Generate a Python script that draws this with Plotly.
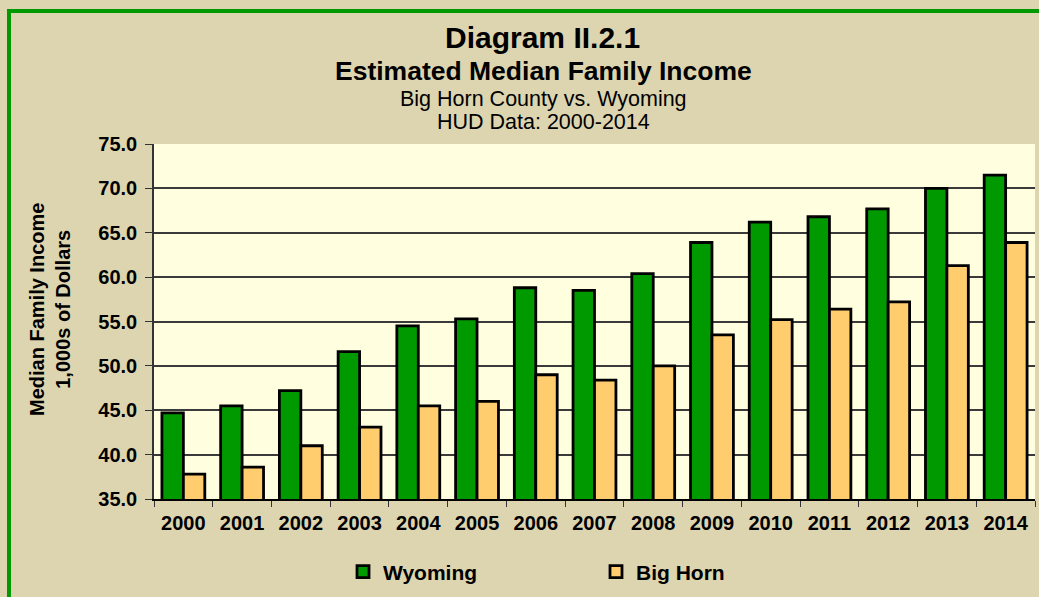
import plotly.graph_objects as go

years = ["2000", "2001", "2002", "2003", "2004", "2005", "2006", "2007",
         "2008", "2009", "2010", "2011", "2012", "2013", "2014"]
wyoming = [44.7, 45.5, 47.2, 51.6, 54.5, 55.3, 58.8, 58.5, 60.4, 63.9, 66.2, 66.8, 67.7, 70.0, 71.5]
big_horn = [37.8, 38.6, 41.0, 43.1, 45.5, 46.0, 49.0, 48.4, 50.0, 53.5, 55.2, 56.4, 57.2, 61.3, 63.9]
y_ticks = [35, 40, 45, 50, 55, 60, 65, 70, 75]

FONT = "Liberation Sans, Arial, sans-serif"
W, H = 1039, 597
L, R, T, B = 154, 4, 144, 98
pw, ph = W - L - R, H - T - B

def px(x):
    return (x - L) / pw

def py(y):
    return (H - B - y) / ph

fig = go.Figure()
fig.add_trace(go.Bar(x=years, y=wyoming, name="Wyoming",
                     marker=dict(color="#009900", line=dict(color="black", width=2.8))))
fig.add_trace(go.Bar(x=years, y=big_horn, name="Big Horn",
                     marker=dict(color="#FFCC6E", line=dict(color="black", width=2.8))))

fig.update_layout(
    width=W, height=H,
    margin=dict(l=L, r=R, t=T, b=B),
    paper_bgcolor="#DDD5B0",
    plot_bgcolor="#FFFFE0",
    barmode="group", bargap=0.27, bargroupgap=0.0,
    font=dict(family=FONT, color="black"),
    showlegend=True,
    legend=dict(orientation="h", x=px(343), y=py(572), xanchor="left", yanchor="middle",
                entrywidth=208, entrywidthmode="pixels",
                font=dict(size=21, family=FONT, color="black", weight="bold"),
                bgcolor="rgba(0,0,0,0)"),
)
fig.update_xaxes(
    showline=True, linecolor="black", linewidth=1.5,
    ticks="outside", tickson="boundaries", ticklen=6, tickcolor="#333",
    ticklabelstandoff=5,
    tickfont=dict(size=20, family=FONT, weight="bold"),
    showgrid=False,
)
fig.update_yaxes(
    range=[35, 75], tickvals=y_ticks, ticktext=[f"{v:.1f}" for v in y_ticks],
    showline=True, linecolor="#333", linewidth=1.5,
    ticks="outside", ticklen=7, tickcolor="#333",
    ticklabelstandoff=4,
    tickfont=dict(size=20, family=FONT, weight="bold"),
    showgrid=True, gridcolor="#3a3a3a", gridwidth=1.5,
    zeroline=False,
)

ann = [
    ("Diagram II.2.1", 542, 38, 30, "bold"),
    ("Estimated Median Family Income", 543, 71, 26.5, "bold"),
    ("Big Horn County vs. Wyoming", 543, 99, 21.5, "normal"),
    ("HUD Data: 2000-2014", 543, 122, 21.5, "normal"),
]
for text, x, y, size, weight in ann:
    fig.add_annotation(text=text, x=px(x), y=py(y), xref="paper", yref="paper",
                       showarrow=False, xanchor="center", yanchor="middle",
                       font=dict(size=size, family=FONT, color="black", weight=weight))

fig.add_annotation(text="Median Family Income<br>1,000s of Dollars", x=px(50), y=py(310),
                   xref="paper", yref="paper", showarrow=False, textangle=-90,
                   xanchor="center", yanchor="middle",
                   font=dict(size=20, family=FONT, color="black", weight="bold"))

# Green frame around the chart
fig.add_shape(type="rect", xref="paper", yref="paper",
              x0=px(9), y0=py(610), x1=px(1050), y1=py(11),
              line=dict(color="#009900", width=4), fillcolor="rgba(0,0,0,0)", layer="below")

fig.write_html("out.html", config={"displayModeBar": False},
               post_script="document.body.style.margin='0';document.body.style.overflow='hidden';")
